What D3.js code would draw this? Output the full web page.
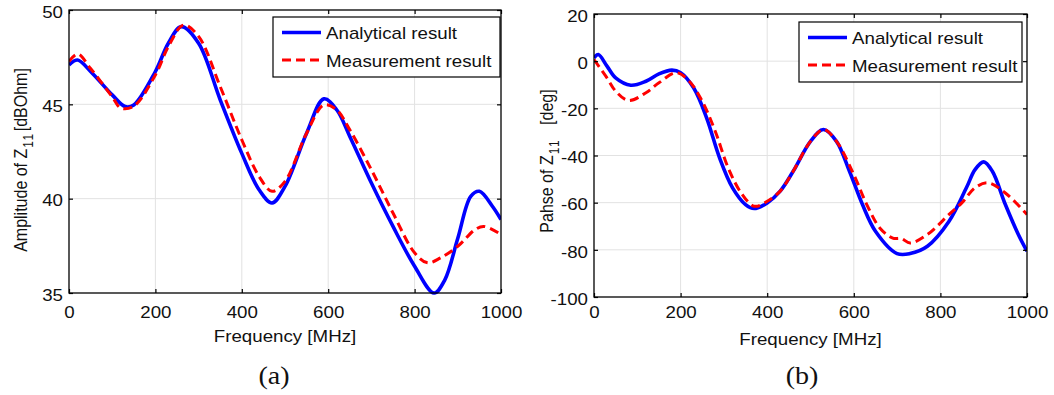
<!DOCTYPE html>
<html>
<head>
<meta charset="utf-8">
<script src="https://cdn.jsdelivr.net/npm/d3@7/dist/d3.min.js"></script>
<style>
body { margin: 0; background: #fff; }
svg text { font-family: 'Liberation Sans', Arial, sans-serif; fill: #111; }
svg text.caption { font-family: 'Liberation Serif', 'Times New Roman', serif; }
</style>
</head>
<body>
<svg id="fig" width="1054" height="395"></svg>
<script>
// ticks and labels
var freqTicks = [0, 200, 400, 600, 800, 1000];
var ampTicks = [35, 40, 45, 50];
var phaseTicks = [-100, -80, -60, -40, -20, 0, 20];
var legendLabels = ['Analytical result', 'Measurement result'];

// (a) amplitude of Z11 [dBOhm]
var ampAnFreq = [0, 20, 50, 100, 130, 150, 200, 230, 260, 300, 350, 400, 440, 470, 500, 550, 590, 620, 650, 700, 750, 800, 845, 870, 900, 930, 950, 980, 1000];
var ampAnalytical = [47.09, 47.35, 46.74, 45.5, 44.88, 44.97, 46.74, 48.24, 49.12, 48.24, 45.24, 42.4, 40.47, 39.77, 40.65, 43.47, 45.29, 44.7, 43.3, 40.83, 38.53, 36.42, 35.0, 35.7, 37.9, 40.12, 40.39, 39.6, 38.89];
var ampMeasFreq = [0, 20, 50, 100, 120, 150, 200, 230, 265, 300, 350, 400, 440, 470, 500, 550, 590, 620, 650, 700, 750, 800, 830, 860, 900, 940, 960, 1000];
var ampMeasured = [47.27, 47.67, 46.9, 45.4, 44.8, 44.9, 46.56, 48.06, 49.2, 48.6, 45.94, 43.12, 41.18, 40.39, 40.92, 43.47, 44.97, 44.7, 43.65, 41.53, 39.24, 37.13, 36.6, 36.86, 37.48, 38.36, 38.53, 38.1];

// (b) phase of Z11 [deg]
var phaseAnFreq = [0, 10, 30, 50, 85, 120, 150, 180, 200, 230, 260, 290, 320, 350, 370, 400, 430, 460, 500, 530, 560, 590, 620, 650, 700, 730, 770, 820, 860, 880, 900, 920, 950, 980, 1000];
var phaseAnalytical = [1.4, 2.8, -2.1, -7.1, -10.2, -8.5, -5.4, -3.8, -4.9, -11.3, -24, -41, -53.7, -60.8, -62.5, -60.1, -55.1, -46.7, -34, -29, -34, -46.7, -60.8, -72.1, -81.6, -81.6, -78.5, -67.9, -53.7, -46, -42.7, -46.7, -60.8, -73.5, -80.6];
var phaseMeasFreq = [0, 30, 50, 80, 120, 150, 190, 220, 250, 280, 310, 340, 370, 400, 430, 460, 500, 530, 560, 600, 630, 660, 690, 710, 730, 770, 820, 850, 880, 910, 950, 1000];
var phaseMeasured = [0.7, -7.1, -12.7, -16.7, -13.4, -9.2, -4.9, -8.5, -17, -29.7, -45.3, -55.9, -61.5, -59.4, -55.1, -46.7, -34, -29, -34, -48.1, -60.8, -70.7, -75, -75.2, -77.1, -73.5, -65, -60, -53.7, -51.6, -55.9, -65];

var SX = 1.17; // the source figure is stretched horizontally
var svg = d3.select('#fig');

var panels = [
    {id: 'a', left: 69, right: 501, top: 10, bottom: 293, yDomain: [35, 50], yTicks: ampTicks,
     an: d3.zip(ampAnFreq, ampAnalytical), meas: d3.zip(ampMeasFreq, ampMeasured),
     legend: [273, 17, 227], ylabX: 27, ylabY: 160, caption: '(a)', capX: 274, xlabY: 342,
     ylab: ['Amplitude of Z', '11', '[dBOhm]'], ylabGap: 1},
    {id: 'b', left: 594, right: 1027, top: 14, bottom: 297, yDomain: [-100, 20], yTicks: phaseTicks,
     an: d3.zip(phaseAnFreq, phaseAnalytical), meas: d3.zip(phaseMeasFreq, phaseMeasured),
     legend: [799, 22, 223], ylabX: 553, ylabY: 161, caption: '(b)', capX: 802, xlabY: 345,
     ylab: ['Pahse of Z', '11', '[deg]'], ylabGap: 14}
];

function plain(d) {
    return String(d); // hyphen minus and no thousands separator, like MATLAB
}

function styleAxis(sel) {
    sel.attr('font-size', 16)
        .attr('font-family', null);
    sel.select('.domain').remove();
    sel.selectAll('.tick line').attr('stroke', '#000').attr('stroke-width', 1.2);
}

function drawPanel(p) {
    var x = d3.scaleLinear().domain([0, 1000]).range([p.left, p.right]);
    var y = d3.scaleLinear().domain(p.yDomain).range([p.bottom, p.top]);
    var g = svg.append('g').attr('class', 'panel-' + p.id);

    // grid
    g.append('g').selectAll('line')
        .data(freqTicks.slice(1, -1))
        .enter().append('line')
        .attr('x1', function (d) { return x(d); })
        .attr('x2', function (d) { return x(d); })
        .attr('y1', p.top).attr('y2', p.bottom)
        .attr('stroke', '#e2e2e2').attr('stroke-width', 1);
    g.append('g').selectAll('line')
        .data(p.yTicks.slice(1, -1))
        .enter().append('line')
        .attr('y1', function (d) { return y(d); })
        .attr('y2', function (d) { return y(d); })
        .attr('x1', p.left).attr('x2', p.right)
        .attr('stroke', '#e2e2e2').attr('stroke-width', 1);

    svg.append('clipPath').attr('id', 'clip-' + p.id)
        .append('rect')
        .attr('x', p.left).attr('y', p.top - 2)
        .attr('width', p.right - p.left).attr('height', p.bottom - p.top + 4);

    var line = d3.line()
        .x(function (d) { return x(d[0]); })
        .y(function (d) { return y(d[1]); })
        .curve(d3.curveCatmullRom.alpha(0.5));

    g.append('path').datum(p.an)
        .attr('clip-path', 'url(#clip-' + p.id + ')')
        .attr('d', line)
        .attr('fill', 'none').attr('stroke', '#0000ff').attr('stroke-width', 3.6);
    g.append('path').datum(p.meas)
        .attr('clip-path', 'url(#clip-' + p.id + ')')
        .attr('d', line)
        .attr('fill', 'none').attr('stroke', '#ff0000').attr('stroke-width', 3)
        .attr('stroke-dasharray', '9,5');

    // axes, MATLAB style ticks inside on all four sides
    var xb = g.append('g')
        .attr('transform', 'translate(0,' + p.bottom + ')')
        .call(d3.axisBottom(x).tickValues(freqTicks).tickSizeInner(-4).tickSizeOuter(0).tickFormat(plain));
    styleAxis(xb);
    xb.selectAll('text')
        .attr('y', 318 - p.bottom).attr('dy', 0)
        .attr('transform', 'scale(' + SX + ',1)');

    var xt = g.append('g')
        .attr('transform', 'translate(0,' + p.top + ')')
        .call(d3.axisTop(x).tickValues(freqTicks).tickSizeInner(-4).tickSizeOuter(0).tickFormat(''));
    styleAxis(xt);

    var yl = g.append('g')
        .attr('transform', 'translate(' + p.left + ',0)')
        .call(d3.axisLeft(y).tickValues(p.yTicks).tickSizeInner(-4).tickSizeOuter(0).tickFormat(plain));
    styleAxis(yl);
    yl.selectAll('text')
        .attr('x', -6 / SX).attr('dy', '0.45em')
        .attr('transform', 'scale(' + SX + ',1)');

    var yr = g.append('g')
        .attr('transform', 'translate(' + p.right + ',0)')
        .call(d3.axisRight(y).tickValues(p.yTicks).tickSizeInner(-4).tickSizeOuter(0).tickFormat(''));
    styleAxis(yr);

    g.append('rect')
        .attr('x', p.left).attr('y', p.top)
        .attr('width', p.right - p.left).attr('height', p.bottom - p.top)
        .attr('fill', 'none').attr('stroke', '#000').attr('stroke-width', 1.3);

    // legend
    var lg = g.append('g')
        .attr('transform', 'translate(' + p.legend[0] + ',' + p.legend[1] + ')');
    lg.append('rect')
        .attr('width', p.legend[2]).attr('height', 60)
        .attr('fill', '#fff').attr('stroke', '#000').attr('stroke-width', 1.2);
    var rows = [
        {label: legendLabels[0], color: '#0000ff', width: 3.6, dash: null, ly: 15.5, ty: 22},
        {label: legendLabels[1], color: '#ff0000', width: 3, dash: '9,5', ly: 43, ty: 50}
    ];
    rows.forEach(function (r) {
        lg.append('line')
            .attr('x1', 9).attr('x2', 48).attr('y1', r.ly).attr('y2', r.ly)
            .attr('stroke', r.color).attr('stroke-width', r.width)
            .attr('stroke-dasharray', r.dash);
        lg.append('text')
            .attr('transform', 'translate(53,' + r.ty + ') scale(' + SX + ',1)')
            .attr('font-size', 16)
            .text(r.label);
    });

    // axis labels
    g.append('text')
        .attr('transform', 'translate(' + (p.left + p.right) / 2 + ',' + p.xlabY + ') scale(' + SX + ',1)')
        .attr('text-anchor', 'middle')
        .attr('font-size', 16)
        .text('Frequency [MHz]');

    var yt = g.append('text')
        .attr('transform', 'translate(' + p.ylabX + ',' + p.ylabY + ') rotate(-90) scale(1,' + SX + ')')
        .attr('text-anchor', 'middle')
        .attr('font-size', 16);
    yt.append('tspan').text(p.ylab[0]);
    yt.append('tspan').attr('dy', 5).attr('dx', 1).attr('font-size', 12)
        .attr('letter-spacing', 1.5).text(p.ylab[1]);
    yt.append('tspan').attr('dy', -5).attr('dx', p.ylabGap).text(p.ylab[2]);

    g.append('text')
        .attr('class', 'caption')
        .attr('transform', 'translate(' + p.capX + ',384) scale(1.08,1)')
        .attr('text-anchor', 'middle')
        .attr('font-size', 26)
        .text(p.caption);
}

panels.forEach(drawPanel);
</script>
</body>
</html>
